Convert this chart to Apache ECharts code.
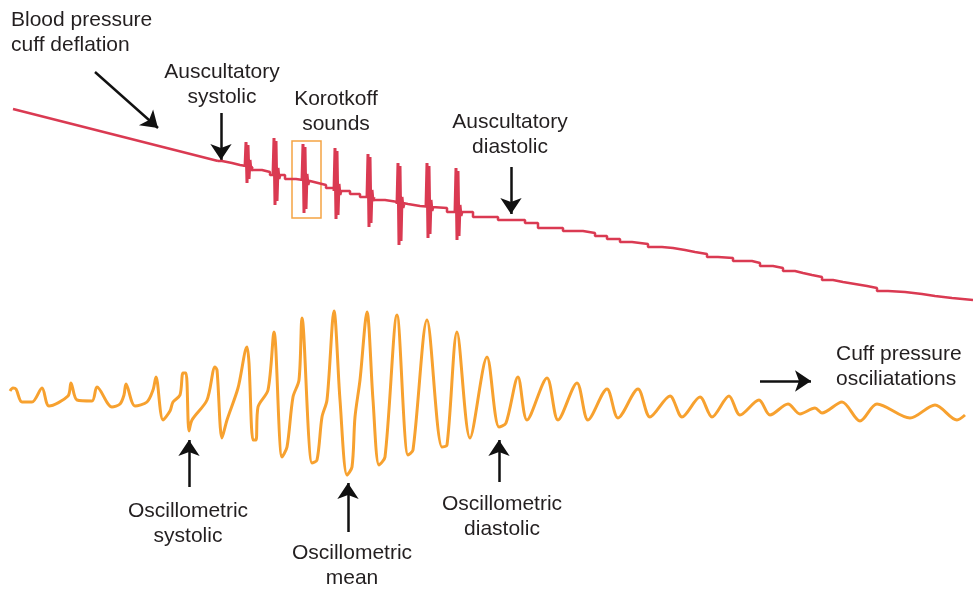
<!DOCTYPE html>
<html>
<head>
<meta charset="utf-8">
<script src="https://cdn.jsdelivr.net/npm/echarts@6/dist/echarts.min.js"></script>
<style>html,body{margin:0;padding:0;background:#fff}#c{width:973px;height:589px}</style>
</head>
<body>
<div id="c"></div>
<script>
// Cuff deflation ramp (before steps)
const rampX = [13, 218];
const rampY = [109, 161];
// Stepwise deflation levels: x where each level begins, level value
const stepX = [218,222,232,240,252,262,270,285,296,310,318,326,336,350,360,372,385,398,408,420,432,447,462,473,498,525,538,563,583,595,607,620,632,648,662,673,685,695,707,718,733,752,760,773,783,795,803,812,822,833,843,855,867,877,888,905,922,935,952,973];
const stepY = [161,163,165,167,170,172,175,179,181,183,185,188,191,194,197,200,202,204,206,207,208,212,212,217,220,223,228,231,233,236,239,242,244,247,248,250,252,254,257,258,261,263,266,268,271,273,275,277,280,282,284,286,288,291,292,294,296,298,300,300];
// Korotkoff sounds
const spikeX = [247,275,304,336,369,399,428,457];
const spikeTop = [142,138,144,148,154,163,163,168];
const spikeBottom = [183,205,213,219,227,245,238,240];
// Oscillometric cuff pressure oscillations
const oscX = [10,13,16,22,32,42,49,68,71,77,92,97,112,120,124,126,135,147,153,156,163,170,173,180,183,186,189,192,207,215,217,222,227,238,247,249,253,256,258,268,274,282,287,293,299,302,312,317,322,327,334,340,347,352,355,360,367,373,379,385,397,408,413,427,442,447,457,470,487,499,506,518,527,547,558,577,588,607,618,638,650,670,682,700,712,729,740,759,770,788,800,815,822,842,860,877,910,935,957,965];
const oscY = [391,388,389,402,402,388,406,396,383,400,401,387,407,404,395,384,406,402,390,377,420,411,402,395,373,373,431,420,400,367,370,438,420,388,347,363,440,440,407,390,332,457,447,397,380,318,463,460,417,400,311,400,475,467,417,380,312,400,465,457,315,455,450,320,447,445,332,438,357,427,423,377,420,378,420,383,420,389,418,389,417,396,417,397,417,396,415,400,415,404,414,408,413,402,421,404,418,405,420,415];
// Annotation texts
const labelText = ['Blood pressure\ncuff deflation','Auscultatory\nsystolic','Korotkoff\nsounds','Auscultatory\ndiastolic','Cuff pressure\nosciliatations','Oscillometric\nsystolic','Oscillometric\nmean','Oscillometric\ndiastolic'];
const labelPos = [[11,33],[222,85],[336,112],[510,135],[836,367],[188,524],[352,566],[502,517]];
const labelAlign = ['left','center','center','center','left','center','center','center'];
// Arrows: [from, to]
const arrows = [[[95,72],[158,128]],[[221,113],[221,160]],[[511,167],[511,214]],[[760,381],[811,381]],[[189,487],[189,440]],[[348,532],[348,483]],[[499,482],[499,440]]];
// Highlight box around one Korotkoff sound
const boxFrom = [292,141];
const boxTo = [321,218];

function baseAt(x){
  let y = stepY[0];
  for (let i=0;i<stepX.length;i++){ if (stepX[i] <= x) y = stepY[i]; }
  return y;
}
const spikeData = [];
spikeX.forEach((x,i)=>{
  const b = baseAt(x);
  const t = spikeTop[i], d = spikeBottom[i];
  spikeData.push([x-2,b],[x-1,t],[x,d],[x+1,t+3],[x+2,d-4],[x+3,b-7],[x+4,b+4],[x+5,b]);
  spikeData.push([x+6,'-']);
});

const RED = '#da3a52';
const ORANGE = '#f7a12f';
const chart = echarts.init(document.getElementById('c'), null, {renderer:'canvas'});
chart.setOption({
  animation:false,
  backgroundColor:'#fff',
  grid:{left:0,right:0,top:0,bottom:0},
  xAxis:{type:'value',min:0,max:973,show:false},
  yAxis:{type:'value',min:0,max:589,inverse:true,show:false},
  series:[
    {type:'line',data:rampX.map((x,i)=>[x,rampY[i]]),symbol:'none',lineStyle:{color:RED,width:2.5}},
    {type:'line',step:'end',data:stepX.map((x,i)=>[x,stepY[i]]),symbol:'none',lineStyle:{color:RED,width:2.5}},
    {type:'line',data:spikeData,symbol:'none',connectNulls:false,lineStyle:{color:RED,width:3}},
    {type:'line',data:oscX.map((x,i)=>[x,oscY[i]]),symbol:'none',smooth:0.3,lineStyle:{color:ORANGE,width:3}},
    {type:'lines',coordinateSystem:'cartesian2d',symbol:['none','arrow'],symbolSize:16,
     lineStyle:{color:'#111',width:2.5,opacity:1},
     data:arrows.map(a=>({coords:a}))},
    {type:'scatter',symbolSize:0,silent:true,itemStyle:{opacity:1},
     data:labelText.map((t,i)=>({value:labelPos[i],label:{formatter:t,align:labelAlign[i]}})),
     label:{show:true,position:'inside',color:'#231f20',opacity:1,fontSize:21,lineHeight:25,fontFamily:'Liberation Sans, Arial, sans-serif',verticalAlign:'middle'},
     markArea:{silent:true,itemStyle:{color:'rgba(0,0,0,0)',borderColor:'#f5a443',borderWidth:1.5},
       data:[[{coord:boxFrom},{coord:boxTo}]]}}
  ]
});
</script>
</body>
</html>
